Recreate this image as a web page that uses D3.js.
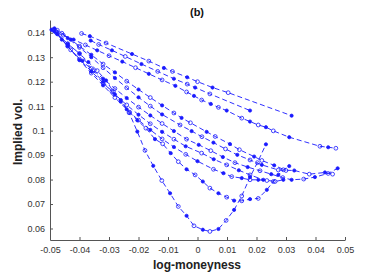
<!DOCTYPE html>
<html>
<head>
<meta charset="utf-8">
<script src="https://cdn.jsdelivr.net/npm/d3@7"></script>
<style>
  body { margin: 0; background: #fff; }
  text { font-family: "Liberation Sans", Arial, sans-serif; }
</style>
</head>
<body>
<svg id="chart" width="382" height="273"></svg>
<script>
// tick values / labels
const xTicks = [-0.05, -0.04, -0.03, -0.02, -0.01, 0, 0.01, 0.02, 0.03, 0.04, 0.05];
const xTickLabels = ["-0.05", "-0.04", "-0.03", "-0.02", "-0.01", "0", "0.01", "0.02", "0.03", "0.04", "0.05"];
const yTicks = [0.06, 0.07, 0.08, 0.09, 0.1, 0.11, 0.12, 0.13, 0.14];
const yTickLabels = ["0.06", "0.07", "0.08", "0.09", "0.1", "0.11", "0.12", "0.13", "0.14"];

// smiles, [log-moneyness, implied vol]
const top1 = [[-0.0393,0.1397],[-0.0365,0.1386],[-0.031,0.1358],[-0.0222,0.1313],[-0.0165,0.1284],[-0.0114,0.1256],
  [-0.0085,0.1242],[-0.0035,0.1218],[0.0,0.12],[0.0051,0.1176],[0.0104,0.1155],[0.0319,0.1061]];
const top2 = [[-0.0362,0.1368],[-0.0335,0.1352],[-0.029,0.1328],[-0.0245,0.1303],[-0.019,0.1272],[-0.0135,0.1242],
  [-0.008,0.1212],[-0.0035,0.119],[-0.0008,0.1176],[0.0042,0.115],[0.0178,0.1082]];
const top3 = [[-0.0455,0.139],[-0.042,0.1372],[-0.038,0.135],[-0.034,0.1328],[-0.03,0.1306],[-0.0255,0.1282],
  [-0.021,0.1257],[-0.0165,0.1232],[-0.012,0.1207],[-0.0075,0.1183],[-0.0037,0.1158],[-0.0012,0.1142],
  [0.0014,0.1125],[0.0045,0.1109],[0.0071,0.1095],[0.0099,0.1082],[0.015,0.1051],[0.0178,0.1037],
  [0.0206,0.1023],[0.0232,0.1014],[0.0257,0.0999],[0.0311,0.0973],[0.0415,0.0936],[0.0443,0.0932],[0.0469,0.0928]];
const low1 = [[-0.0485,0.1418],[-0.046,0.1398],[-0.043,0.1372],[-0.04,0.1345],[-0.036,0.131],[-0.032,0.1272],
  [-0.028,0.1238],[-0.024,0.1202],[-0.02,0.1168],[-0.016,0.1135],[-0.012,0.1103],[-0.008,0.1072],
  [-0.0054,0.1052],[-0.0024,0.1032],[0.0031,0.0995],[0.006,0.0976],[0.011,0.0945],[0.0142,0.0922],
  [0.0192,0.0894],[0.0218,0.0878],[0.026,0.0858],[0.03,0.0837]];
const low2 = [[-0.0475,0.141],[-0.044,0.1378],[-0.04,0.134],[-0.036,0.13],[-0.032,0.1257],[-0.028,0.1215],
  [-0.024,0.1175],[-0.02,0.1136],[-0.016,0.11],[-0.012,0.1066],[-0.0059,0.1023],[-0.002,0.0998],
  [0.0015,0.0975],[0.0054,0.0951],[0.0095,0.0925],[0.0135,0.0901],[0.0178,0.088],[0.0218,0.086],
  [0.0274,0.0839],[0.0328,0.0837],[0.0379,0.0822],[0.0432,0.0829],[0.0458,0.0822]];
const low3 = [[-0.0485,0.1405],[-0.044,0.1355],[-0.04,0.1315],[-0.036,0.1254],[-0.032,0.1212],[-0.028,0.1172],
  [-0.024,0.1133],[-0.02,0.1096],[-0.016,0.1062],[-0.012,0.1029],[-0.008,0.0998],[-0.0037,0.0965],
  [0.0004,0.0942],[0.0045,0.0918],[0.0086,0.0892],[0.0127,0.0869],[0.017,0.0851],[0.0212,0.0836],
  [0.025,0.0822],[0.0289,0.0808],[0.0319,0.0799],[0.036,0.0802],[0.0398,0.081],[0.0443,0.0825],[0.0475,0.0846]];
const low4 = [[-0.048,0.1402],[-0.044,0.1345],[-0.04,0.1292],[-0.036,0.1242],[-0.032,0.1195],[-0.028,0.1148],
  [-0.024,0.1105],[-0.02,0.1065],[-0.016,0.1028],[-0.012,0.0995],[-0.008,0.0965],[-0.004,0.0936],
  [0.0014,0.0908],[0.0055,0.0883],[0.0099,0.086],[0.014,0.0838],[0.0178,0.0819],[0.0223,0.0799],
  [0.0263,0.0792],[0.0291,0.0799]];
const low5 = [[-0.0475,0.1395],[-0.044,0.1345],[-0.04,0.1288],[-0.036,0.1235],[-0.032,0.1185],[-0.028,0.1135],
  [-0.024,0.1087],[-0.02,0.1043],[-0.016,0.1003],[-0.012,0.0966],[-0.008,0.0933],[-0.004,0.0903],
  [0.0,0.0875],[0.0054,0.0842],[0.0088,0.0826],[0.0116,0.0812],[0.015,0.0806],[0.0178,0.0799],
  [0.0206,0.0799],[0.0235,0.0796]];
const low6 = [[-0.049,0.1412],[-0.046,0.1372],[-0.043,0.133],[-0.039,0.1285],[-0.0355,0.1245],[-0.032,0.12],
  [-0.029,0.116],[-0.026,0.1118],[-0.023,0.1075],[-0.0204,0.1042],[-0.0175,0.101],[-0.0144,0.0965],
  [-0.0118,0.0946],[-0.0091,0.0908],[-0.0065,0.0873],[-0.0037,0.0842],[-0.0008,0.0819],[0.0018,0.0792],
  [0.0042,0.0765],[0.0071,0.0744],[0.0099,0.0728],[0.0124,0.0714],[0.015,0.0713],[0.0178,0.072],
  [0.0206,0.0723],[0.0235,0.0758],[0.0257,0.0792],[0.0274,0.0819],[0.0291,0.084],[0.0311,0.0855]];
const vCurve = [[-0.0495,0.1412],[-0.0475,0.1395],[-0.044,0.1355],[-0.04,0.1315],[-0.037,0.128],[-0.034,0.1245],
  [-0.031,0.1205],[-0.0285,0.1159],[-0.026,0.1125],[-0.0232,0.1073],[-0.0204,0.0996],[-0.0178,0.0919],
  [-0.015,0.0856],[-0.0121,0.0796],[-0.0093,0.0744],[-0.0065,0.069],[-0.0037,0.0652],[-0.0012,0.0611],
  [0.0018,0.0595],[0.0042,0.0588],[0.0071,0.0598],[0.0097,0.0633],[0.0124,0.0676],[0.015,0.0733],
  [0.0178,0.081],[0.0203,0.0869],[0.0232,0.0944]];

const curves = [top1, top2, top3, low1, low2, low3, low4, low5, low6, vCurve];

const svg = d3.select("#chart");
const blue = "#1a1aff";

const x = d3.scaleLinear().domain([-0.05, 0.05]).range([50, 345]);
const y = d3.scaleLinear().domain([0.0553, 0.1452]).range([240, 20]);

// axes (matlab style: ticks inward, no box)
const xAxis = svg.append("g")
    .attr("transform", "translate(0,240)")
    .call(d3.axisBottom(x).tickValues(xTicks).tickFormat((d, i) => xTickLabels[i])
        .tickSize(-3).tickSizeOuter(0).tickPadding(7));
const yAxis = svg.append("g")
    .attr("transform", "translate(50,0)")
    .call(d3.axisLeft(y).tickValues(yTicks).tickFormat((d, i) => yTickLabels[i])
        .tickSize(-3).tickSizeOuter(0).tickPadding(5));

[xAxis, yAxis].forEach(a => {
    a.select(".domain").attr("stroke", "#555").attr("stroke-width", 1);
    a.selectAll(".tick line").attr("stroke", "#555");
    a.selectAll("text").attr("fill", "#333").style("font-size", "9px")
        .style("font-family", "'Liberation Sans', Arial, sans-serif");
});

const line = d3.line().x(d => x(d[0])).y(d => y(d[1]));

const g = svg.append("g");
curves.forEach((c, k) => {
    g.append("path")
        .datum(c)
        .attr("d", line)
        .attr("fill", "none")
        .attr("stroke", blue)
        .attr("stroke-width", 0.9)
        .attr("stroke-dasharray", "5,3");

    g.selectAll(null)
        .data(c)
        .join("circle")
        .attr("cx", d => x(d[0]))
        .attr("cy", d => y(d[1]))
        .attr("r", (d, i) => (i + k) % 2 === 0 ? 1.9 : 1.6)
        .attr("fill", (d, i) => (i + k) % 2 === 0 ? "none" : blue)
        .attr("stroke", blue)
        .attr("stroke-width", 0.8);
});

// titles
svg.append("text")
    .attr("x", 197).attr("y", 16)
    .attr("text-anchor", "middle")
    .style("font-size", "11px").style("font-weight", "bold")
    .attr("fill", "#111")
    .text("(b)");

svg.append("text")
    .attr("x", 197).attr("y", 269)
    .attr("text-anchor", "middle")
    .style("font-size", "12px").style("font-weight", "bold")
    .attr("fill", "#222")
    .text("log-moneyness");

svg.append("text")
    .attr("transform", "translate(22,132) rotate(-90)")
    .attr("text-anchor", "middle")
    .style("font-size", "12px").style("font-weight", "bold")
    .attr("fill", "#222")
    .text("Implied vol.");
</script>
</body>
</html>
